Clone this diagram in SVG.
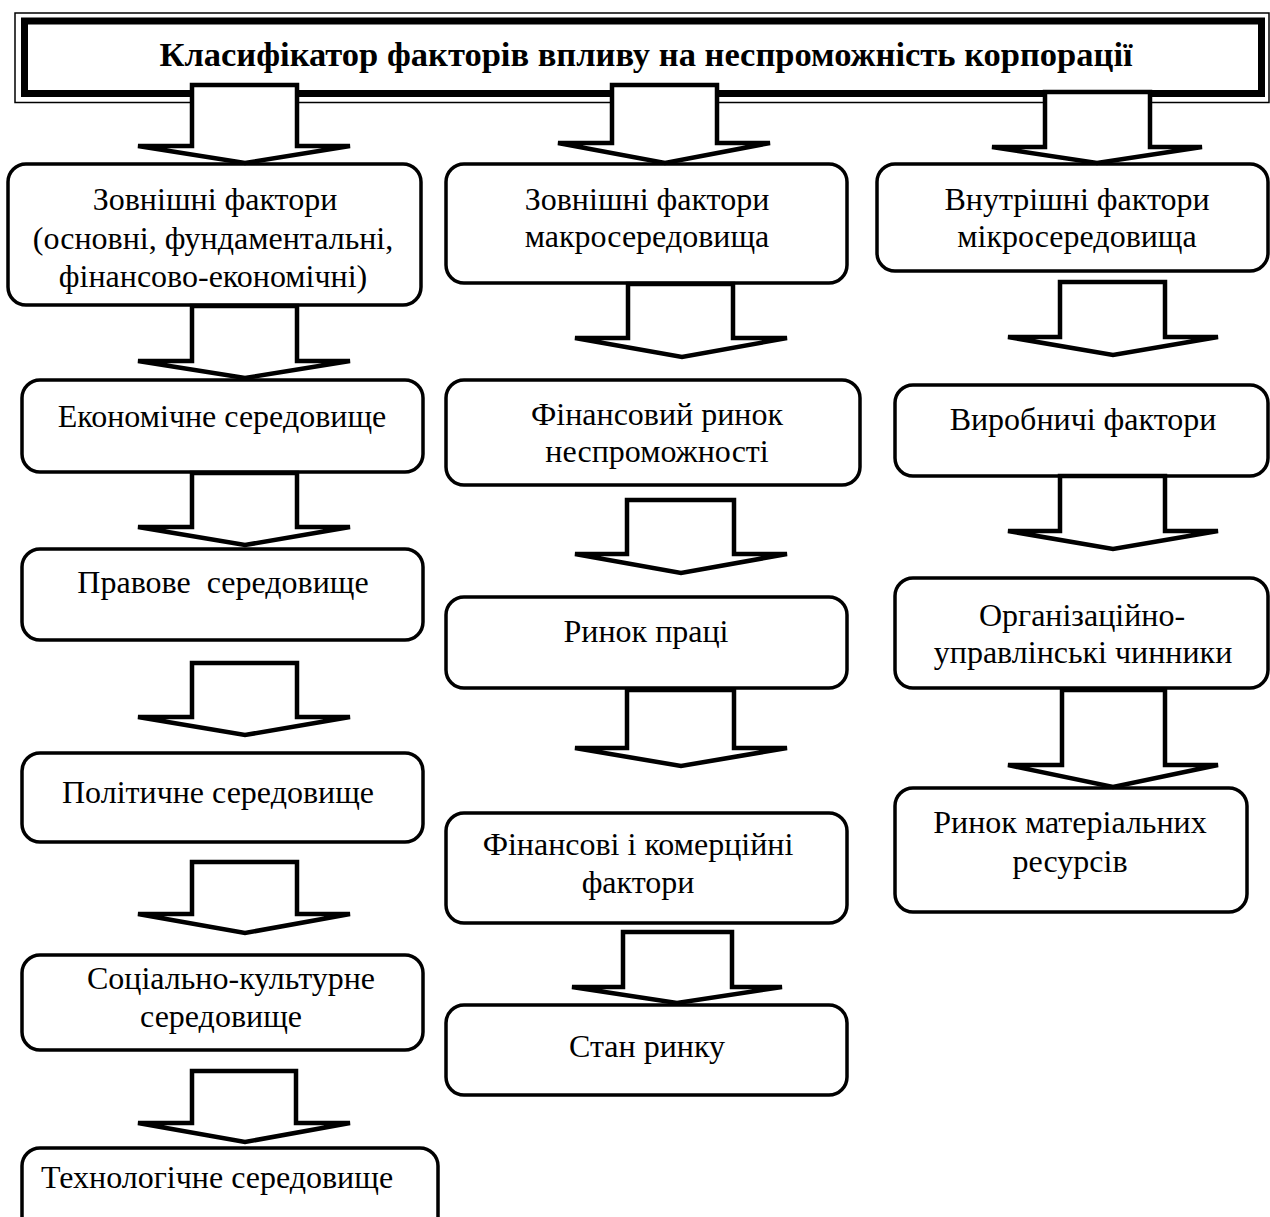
<svg xmlns="http://www.w3.org/2000/svg" width="1270" height="1217" viewBox="0 0 1270 1217">
<style>
.box{fill:#fff;stroke:#000;stroke-width:3.5}
.arr{fill:#fff;stroke:#000;stroke-width:4.5;stroke-linejoin:miter;stroke-miterlimit:3}
.t{font-family:"Liberation Serif","Times New Roman",serif;font-size:32px;fill:#000;text-anchor:middle}
.title{font-family:"Liberation Serif","Times New Roman",serif;font-size:34.5px;font-weight:bold;fill:#000;text-anchor:middle}
</style>
<rect width="1270" height="1217" fill="#fff"/>
<g id="title">
<rect x="15" y="13" width="1254" height="89.5" fill="#fff" stroke="#000" stroke-width="1.5"/>
<rect x="24.5" y="21" width="1237" height="72.5" fill="#fff" stroke="#000" stroke-width="7"/>
<text class="title" x="646" y="66">Класифікатор факторів впливу на неспроможність корпорації</text>
</g>
<g id="L1"><rect class="box" x="8" y="164" width="413" height="141" rx="18"/>
<text class="t" x="215" y="210">Зовнішні фактори</text>
<text class="t" x="213" y="249">(основні, фундаментальні,</text>
<text class="t" x="213" y="287">фінансово-економічні)</text></g>
<g id="L2"><rect class="box" x="22" y="380" width="401" height="92" rx="18"/>
<text class="t" x="222" y="427">Економічне середовище</text></g>
<g id="L3"><rect class="box" x="22" y="549" width="401" height="91" rx="18"/>
<text class="t" x="223" y="593" xml:space="preserve">Правове  середовище</text></g>
<g id="L4"><rect class="box" x="22" y="753" width="401" height="89" rx="18"/>
<text class="t" x="218" y="803">Політичне середовище</text></g>
<g id="L5"><rect class="box" x="22" y="955" width="401" height="95" rx="18"/>
<text class="t" x="231" y="989">Соціально-культурне</text>
<text class="t" x="221" y="1027">середовище</text></g>
<g id="L6"><rect class="box" x="22" y="1148" width="416" height="110" rx="18"/>
<text class="t" x="217" y="1188">Технологічне середовище</text></g>
<g id="M1"><rect class="box" x="446" y="164" width="401" height="119" rx="18"/>
<text class="t" x="647" y="210">Зовнішні фактори</text>
<text class="t" x="647" y="247">макросередовища</text></g>
<g id="M2"><rect class="box" x="446" y="380" width="414" height="105" rx="18"/>
<text class="t" x="657" y="425">Фінансовий ринок</text>
<text class="t" x="657" y="462">неспроможності</text></g>
<g id="M3"><rect class="box" x="446" y="597" width="401" height="91" rx="18"/>
<text class="t" x="646" y="642">Ринок праці</text></g>
<g id="M4"><rect class="box" x="446" y="813" width="401" height="110" rx="18"/>
<text class="t" x="638" y="855">Фінансові і комерційні</text>
<text class="t" x="638" y="893">фактори</text></g>
<g id="M5"><rect class="box" x="446" y="1005" width="401" height="90" rx="18"/>
<text class="t" x="647" y="1057">Стан ринку</text></g>
<g id="R1"><rect class="box" x="877" y="164" width="391" height="107" rx="18"/>
<text class="t" x="1077" y="210">Внутрішні фактори</text>
<text class="t" x="1077" y="247">мікросередовища</text></g>
<g id="R2"><rect class="box" x="895" y="385" width="373" height="91" rx="18"/>
<text class="t" x="1083" y="430">Виробничі фактори</text></g>
<g id="R3"><rect class="box" x="895" y="578" width="373" height="110" rx="18"/>
<text class="t" x="1082" y="626">Організаційно-</text>
<text class="t" x="1083" y="663">управлінські чинники</text></g>
<g id="R4"><rect class="box" x="895" y="788" width="352" height="124" rx="18"/>
<text class="t" x="1070" y="833">Ринок матеріальних</text>
<text class="t" x="1070" y="872">ресурсів</text></g>
<g id="connectors">
<polygon class="arr" points="192,85 297,85 297,146 350,146 245,163 138,146 192,146"/>
<polygon class="arr" points="192,306 297,306 297,361 350,361 245,378 138,361 192,361"/>
<polygon class="arr" points="192,473 297,473 297,527 350,527 245,545 138,527 192,527"/>
<polygon class="arr" points="192,663 297,663 297,717 350,717 245,735 138,717 192,717"/>
<polygon class="arr" points="192,862 297,862 297,914 350,914 245,933 138,914 192,914"/>
<polygon class="arr" points="192,1071 296,1071 296,1123 350,1123 245,1142 138,1123 192,1123"/>
<polygon class="arr" points="612,85 717,85 717,143 770,143 665,163 558,143 612,143"/>
<polygon class="arr" points="628,284 733,284 733,338 787,338 682,357 575,338 628,338"/>
<polygon class="arr" points="627,500 734,500 734,554 787,554 681,573 575,554 627,554"/>
<polygon class="arr" points="627,690 734,690 734,748 787,748 681,766 575,748 627,748"/>
<polygon class="arr" points="623,932 732,932 732,987 782,987 677,1003 572,987 623,987"/>
<polygon class="arr" points="1045,92 1150,92 1150,147 1202,147 1097,163 992,147 1045,147"/>
<polygon class="arr" points="1060,282 1165,282 1165,337 1218,337 1113,355 1008,337 1060,337"/>
<polygon class="arr" points="1060,476 1165,476 1165,531 1218,531 1113,549 1008,531 1060,531"/>
<polygon class="arr" points="1062,690 1165,690 1165,765 1218,765 1113,787 1008,765 1062,765"/>
</g>
</svg>
